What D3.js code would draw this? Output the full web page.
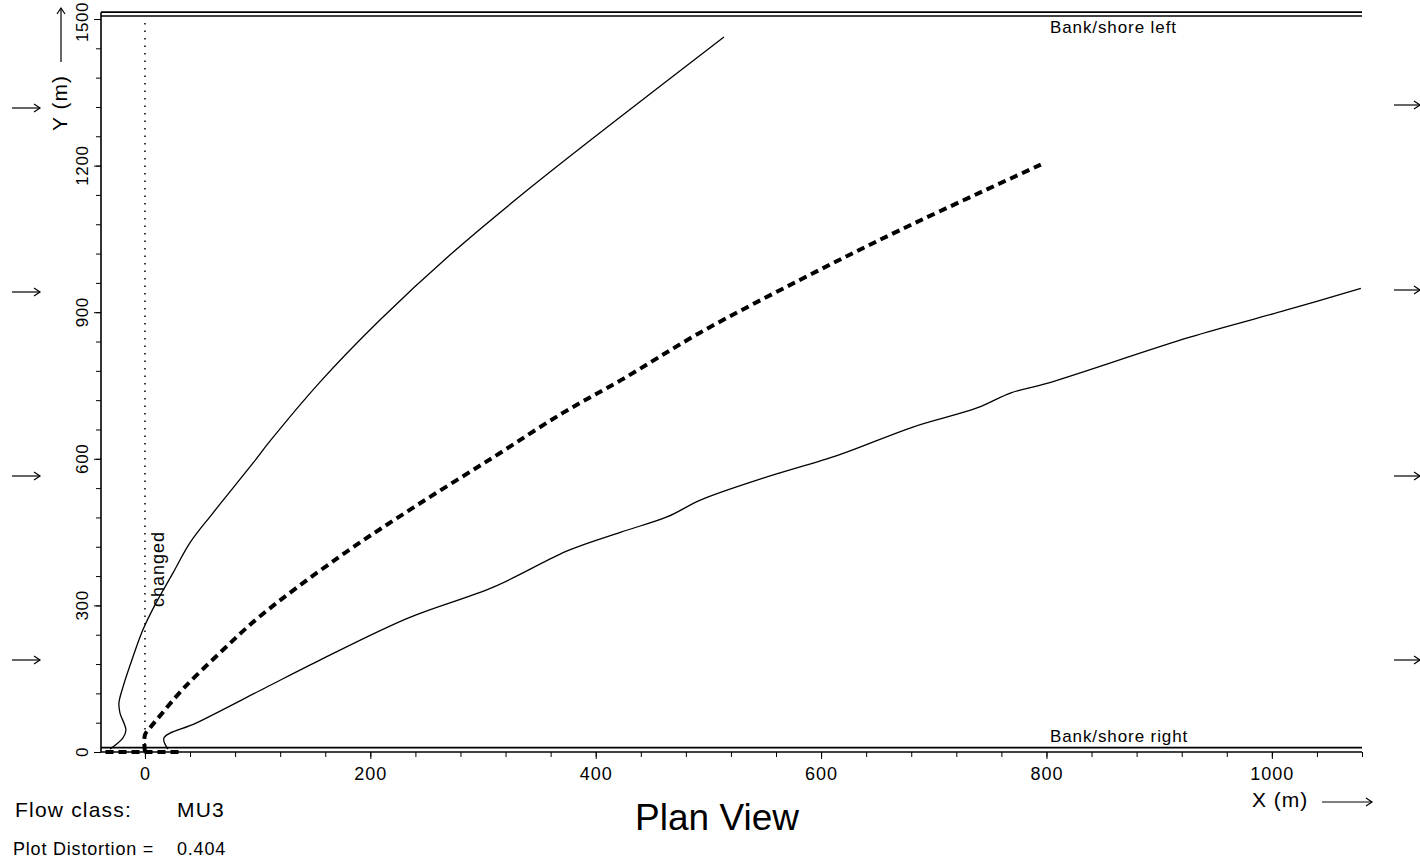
<!DOCTYPE html>
<html lang="en">
<head>
<meta charset="UTF-8">
<title>Plan View</title>
<script src="https://d3js.org/d3.v7.min.js"></script>
<style>
  body { margin: 0; background: #fff; }
  svg { font-family: "Liberation Sans", Arial, sans-serif; }
  path.plume { fill: none; stroke: #000; stroke-width: 1.3px; }
  path.centre { fill: none; stroke: #000; stroke-width: 4px; stroke-dasharray: 8,5; }
  .axis path, .axis line { stroke: #000; }
  .axis text { font-size: 18px; fill: #000; letter-spacing: 1px; }
</style>
</head>
<body>
<svg width="1420" height="865"></svg>
<script>
// plume boundaries and centre line, metres (x downstream, y across)
const upperX  = [-31, -19.5, -16.9, -22.2, -23.1, -19.5, -10.6, -1.8, 8.9, 24.8, 39.9, 60.3, 95.8, 110.9, 155.3, 208.5, 270.6, 341.6, 421.5, 513.8];
const upperY  = [6, 29, 45, 80, 100, 133, 195, 250, 301, 366, 428, 489, 591, 636, 757, 884, 1017, 1154, 1299, 1463];
const centreX = [0, 0, 4.4, 13.3, 34.6, 66.6, 101.2, 172.2, 238.7, 309.7, 370.9, 422.4, 492.5, 581.2, 670, 795];
const centreY = [0, 35, 49, 74, 131, 203, 276, 399, 501, 604, 694, 761, 858, 966, 1068, 1202];
const lowerX  = [20.4, 16.9, 45.3, 106.5, 151.7, 233.4, 309.7, 376.3, 422.4, 463.2, 493.4, 549.3, 615.9, 681.5, 738.3, 768.5, 801.3, 927.3, 1012.5, 1079];
const lowerY  = [6, 29, 59, 131, 184, 274, 338, 413, 450, 481, 516, 561, 608, 665, 704, 735, 755, 849, 904, 949];
const sourceX = [-35, 34];   // outfall segment on the right bank
const sourceY = [0, 0];

const xTicks = [0, 200, 400, 600, 800, 1000];
const yTicks = [0, 300, 600, 900, 1200, 1500];
const bankLeftY  = [1506, 1514];
const bankRightY = [0, 9];
const xDomain = [-39, 1080];
const yDomain = [0, 1500];

const svg = d3.select('svg');
const x = d3.scaleLinear().domain(xDomain).range([101, 1362]);
const y = d3.scaleLinear().domain(yDomain).range([752, 19]);

const toPts = (xs, ys) => xs.map((v, i) => [v, ys[i]]);
const line = d3.line().x(d => x(d[0])).y(d => y(d[1]));
const smooth = d3.line().x(d => x(d[0])).y(d => y(d[1])).curve(d3.curveCatmullRom.alpha(0.5));

// banks (double lines)
bankLeftY.concat(bankRightY).forEach(b => {
  svg.append('line')
    .attr('x1', x(xDomain[0])).attr('x2', x(xDomain[1]))
    .attr('y1', y(b)).attr('y2', y(b))
    .attr('stroke', '#000').attr('stroke-width', 1.6);
});
svg.append('text').attr('x', 1050).attr('y', 33)
  .attr('font-size', 17).attr('letter-spacing', 0.9).text('Bank/shore left');
svg.append('text').attr('x', 1050).attr('y', 742)
  .attr('font-size', 17).attr('letter-spacing', 0.9).text('Bank/shore right');

// axes
const xMinor = d3.range(-40, 1081, 40).filter(v => v >= xDomain[0]);
svg.append('g').attr('class', 'axis').attr('transform', `translate(0,${y(0)})`)
  .call(d3.axisBottom(x).tickValues(xMinor).tickSize(5).tickFormat(''))
  .call(g => g.select('.domain').remove());
svg.append('g').attr('class', 'axis').attr('transform', `translate(0,${y(0)})`)
  .call(d3.axisBottom(x).tickValues(xTicks).tickSize(7).tickPadding(8).tickFormat(d3.format('d')))
  .call(g => g.select('.domain').remove());

const yMinor = d3.range(0, 1501, 60);
svg.append('g').attr('class', 'axis').attr('transform', `translate(${x(xDomain[0])},0)`)
  .call(d3.axisLeft(y).tickValues(yMinor).tickSize(5).tickFormat(''))
  .call(g => g.select('.domain').attr('d', `M0,${y(0)}V${y(1514)}`).attr('stroke-width', 1.6));
svg.append('g').attr('class', 'axis').attr('transform', `translate(${x(xDomain[0])},0)`)
  .call(d3.axisLeft(y).tickValues(yTicks).tickSize(7).tickFormat(''))
  .call(g => g.select('.domain').remove());
// rotated y tick labels
svg.append('g').selectAll('text').data(yTicks).join('text')
  .attr('transform', d => `translate(88,${Math.max(y(d), 22)}) rotate(-90)`)
  .attr('text-anchor', 'middle').attr('font-size', 17).attr('letter-spacing', 0.6)
  .text(d3.format('d'));

// "changed" marker at x = 0
svg.append('line')
  .attr('x1', x(0)).attr('x2', x(0)).attr('y1', y(0)).attr('y2', y(1500))
  .attr('stroke', '#000').attr('stroke-width', 1.5).attr('stroke-dasharray', '1.5,6');
svg.append('text').attr('transform', `translate(${x(0) + 19},607) rotate(-90)`)
  .attr('font-size', 18).attr('letter-spacing', 1).text('changed');

// plume
svg.append('path').attr('class', 'plume').attr('d', smooth(toPts(upperX, upperY)));
svg.append('path').attr('class', 'plume').attr('d', smooth(toPts(lowerX, lowerY)));
svg.append('path').attr('class', 'centre').attr('d', smooth(toPts(centreX, centreY)));
svg.append('path').attr('class', 'centre').attr('d', line(toPts(sourceX, sourceY)));

// labels
const arrow = (x1, yy, len) => {
  svg.append('line').attr('x1', x1).attr('x2', x1 + len).attr('y1', yy).attr('y2', yy)
    .attr('stroke', '#000').attr('stroke-width', 1.2);
  svg.append('path').attr('d', `M${x1 + len - 6},${yy - 4}L${x1 + len},${yy}L${x1 + len - 6},${yy + 4}`)
    .attr('fill', 'none').attr('stroke', '#000').attr('stroke-width', 1.2);
};
[108, 292, 476, 660].forEach(v => arrow(12, v, 28));
[105, 290, 476, 660].forEach(v => arrow(1394, v, 26));

svg.append('text').attr('transform', 'translate(67,131) rotate(-90)')
  .attr('font-size', 21).attr('letter-spacing', 1).text('Y (m)');
svg.append('line').attr('x1', 61).attr('x2', 61).attr('y1', 62).attr('y2', 8)
  .attr('stroke', '#000').attr('stroke-width', 1.2);
svg.append('path').attr('d', 'M57,14L61,8L65,14').attr('fill', 'none').attr('stroke', '#000').attr('stroke-width', 1.2);

svg.append('text').attr('x', 1252).attr('y', 807).attr('font-size', 21).attr('letter-spacing', 1).text('X (m)');
arrow(1322, 802, 50);

svg.append('text').attr('x', 717).attr('y', 830).attr('text-anchor', 'middle')
  .attr('font-size', 37).text('Plan View');
svg.append('text').attr('x', 15).attr('y', 817).attr('font-size', 21).attr('letter-spacing', 1.2).text('Flow class:');
svg.append('text').attr('x', 177).attr('y', 817).attr('font-size', 21).attr('letter-spacing', 1.2).text('MU3');
svg.append('text').attr('x', 13).attr('y', 855).attr('font-size', 18).attr('letter-spacing', 0.8).text('Plot Distortion =');
svg.append('text').attr('x', 177).attr('y', 855).attr('font-size', 18).attr('letter-spacing', 0.8).text('0.404');
</script>
</body>
</html>
